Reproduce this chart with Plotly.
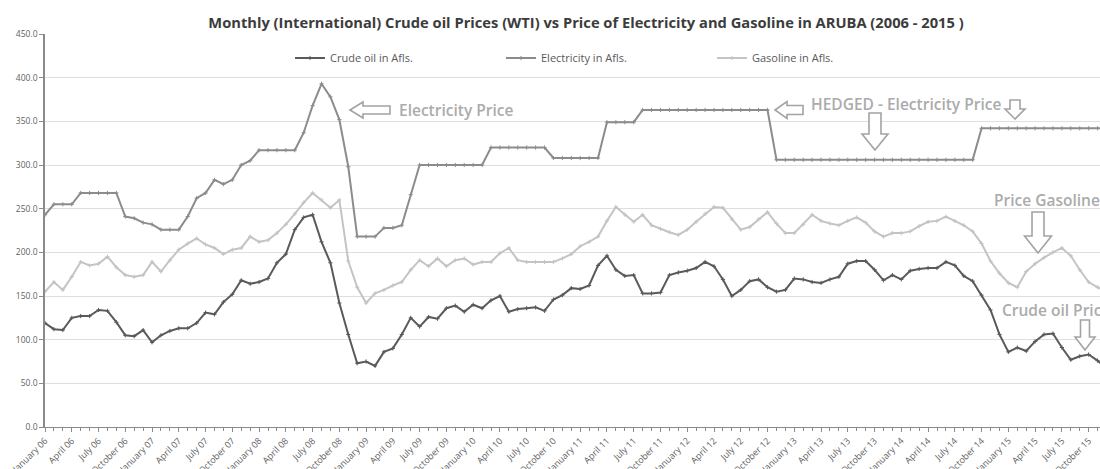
import plotly.graph_objects as go

# ---------------- data ----------------
years = ["06", "07", "08", "09", "10", "11", "12", "13", "14", "15"]
month_names = ["January", "February", "March", "April", "May", "June", "July",
               "August", "September", "October", "November", "December"]
months = [f"{m} {y}" for y in years for m in month_names]          # 120 categories
tick_months = months[::3]                                           # labelled every quarter

crude_oil = [
    119, 112, 111, 125, 127, 127, 134, 133, 120, 105, 104, 111,   # 2006
    97, 105, 110, 113, 113, 119, 131, 129, 143, 152, 168, 164,    # 2007
    166, 170, 188, 198, 226, 240, 243, 212, 188, 142, 106, 73,    # 2008
    75, 70, 86, 90, 106, 125, 115, 126, 124, 136, 139, 132,       # 2009
    140, 136, 145, 150, 132, 135, 136, 137, 133, 146, 151, 159,   # 2010
    158, 162, 185, 196, 180, 173, 174, 153, 153, 154, 174, 177,   # 2011
    179, 182, 189, 184, 169, 150, 157, 167, 169, 160, 155, 157,   # 2012
    170, 169, 166, 165, 169, 172, 187, 190, 190, 180, 168, 174,   # 2013
    169, 179, 181, 182, 182, 189, 185, 173, 167, 151, 134, 106,   # 2014
    86, 91, 87, 98, 106, 107, 91, 77, 81, 83, 76, 67,             # 2015
]

electricity = [
    243, 255, 255, 255, 268, 268, 268, 268, 268, 241, 239, 234,   # 2006
    232, 226, 226, 226, 241, 262, 268, 283, 278, 283, 300, 305,   # 2007
    317, 317, 317, 317, 317, 337, 368, 393, 378, 352, 298, 218,   # 2008
    218, 218, 228, 228, 231, 266, 300, 300, 300, 300, 300, 300,   # 2009
    300, 300, 320, 320, 320, 320, 320, 320, 320, 308, 308, 308,   # 2010
    308, 308, 308, 349, 349, 349, 349, 363, 363, 363, 363, 363,   # 2011
    363, 363, 363, 363, 363, 363, 363, 363, 363, 363, 306, 306,   # 2012
    306, 306, 306, 306, 306, 306, 306, 306, 306, 306, 306, 306,   # 2013
    306, 306, 306, 306, 306, 306, 306, 306, 306, 342, 342, 342,   # 2014
    342, 342, 342, 342, 342, 342, 342, 342, 342, 342, 342, 342,   # 2015
]

gasoline = [
    155, 166, 157, 172, 189, 185, 187, 195, 183, 174, 172, 174,   # 2006
    189, 178, 191, 203, 210, 216, 209, 205, 198, 203, 205, 218,   # 2007
    212, 214, 222, 232, 244, 257, 268, 260, 251, 260, 190, 160,   # 2008
    142, 153, 157, 162, 166, 180, 191, 184, 193, 184, 191, 193,   # 2009
    186, 189, 189, 199, 205, 191, 189, 189, 189, 189, 193, 198,   # 2010
    207, 212, 218, 236, 252, 243, 235, 243, 231, 227, 223, 220,   # 2011
    226, 235, 244, 252, 251, 238, 226, 229, 238, 246, 233, 222,   # 2012
    222, 232, 243, 236, 233, 231, 236, 240, 234, 224, 218, 222,   # 2013
    222, 224, 230, 235, 236, 241, 236, 231, 224, 210, 190, 176,   # 2014
    165, 160, 178, 187, 194, 200, 205, 196, 180, 166, 160, 155,   # 2015
]

series_names = ["Crude oil in Afls.", "Electricity in Afls.", "Gasoline in Afls."]
series_colors = ["#5a5a5a", "#8c8c8c", "#c4c4c4"]

# ---------------- layout geometry ----------------
W, H = 1100, 469
L, R, T, B = 45, 1100, 34, 427          # plot-area edges in pixels
FONT = "Open Sans"


def px(xp):
    return (xp - L) / (R - L)


def py(yp):
    return (B - yp) / (B - T)


def arrow_path(direction, a, b, length, width, head, shaft):
    """Hollow block arrow. left: tip at (a,b); down: top-centre at (a,b)."""
    if direction == "left":
        pts = [(a, b), (a + head, b - width / 2), (a + head, b - shaft / 2),
               (a + length, b - shaft / 2), (a + length, b + shaft / 2),
               (a + head, b + shaft / 2), (a + head, b + width / 2)]
    else:
        tip = b + length
        pts = [(a, tip), (a - width / 2, tip - head), (a - shaft / 2, tip - head),
               (a - shaft / 2, b), (a + shaft / 2, b), (a + shaft / 2, tip - head),
               (a + width / 2, tip - head)]
    return "M " + " L ".join(f"{px(x):.5f},{py(y):.5f}" for x, y in pts) + " Z"


x_idx = list(range(len(months)))

fig = go.Figure()
for name, vals, col in zip(series_names, [crude_oil, electricity, gasoline], series_colors):
    fig.add_trace(go.Scatter(
        x=x_idx, y=vals, name=name, mode="lines+markers",
        line=dict(color=col, width=2),
        marker=dict(symbol="cross-thin-open", size=3, line=dict(color=col, width=1)),
        hovertext=months,
    ))

arrow_style = dict(type="path", xref="paper", yref="paper",
                   line=dict(color="#a3a3a3", width=1.6), fillcolor="white", layer="above")
shapes = [
    dict(path=arrow_path("left", 350, 110, 40, 16, 13, 8), **arrow_style),
    dict(path=arrow_path("left", 775, 110, 28, 17, 12, 9), **arrow_style),
    dict(path=arrow_path("down", 1015, 100, 19, 20, 10, 10), **arrow_style),
    dict(path=arrow_path("down", 875, 113, 37, 26, 16, 12), **arrow_style),
    dict(path=arrow_path("down", 1038, 212, 41, 27, 17, 12), **arrow_style),
    dict(path=arrow_path("down", 1085, 320, 30, 20, 13, 9), **arrow_style),
]

ann_font = dict(family=FONT, size=15.5, color="#ababab", weight=600)
annotations = [
    dict(text="Electricity Price", x=px(397), y=py(110)),
    dict(text="HEDGED - Electricity Price", x=px(809), y=py(104)),
    dict(text="Price Gasoline", x=px(992), y=py(200)),
    dict(text="Crude oil Price", x=px(1000), y=py(310)),
]
for a in annotations:
    a.update(xref="paper", yref="paper", xanchor="left", yanchor="middle",
             showarrow=False, font=ann_font)

fig.update_layout(
    width=W, height=H,
    margin=dict(l=L, r=W - R, t=T, b=H - B, autoexpand=False),
    paper_bgcolor="white", plot_bgcolor="white",
    title=dict(
        text="Monthly (International) Crude oil Prices (WTI) vs Price of Electricity and Gasoline in ARUBA (2006 - 2015 )",
        xref="container", x=586 / W, xanchor="center", y=1 - 23 / H, yanchor="middle",
        font=dict(family=FONT, size=14.7, color="#3c3c3c", weight="bold"),
    ),
    legend=dict(orientation="h", x=px(290), xanchor="left", y=py(58), yanchor="middle",
                font=dict(family=FONT, size=11, color="#595959"),
                itemwidth=30, entrywidth=166, entrywidthmode="pixels",
                bgcolor="rgba(0,0,0,0)", tracegroupgap=0),
    shapes=shapes,
    annotations=annotations,
    showlegend=True,
    hovermode="x",
)

fig.update_xaxes(
    range=[0, (R - L) / 8.92],
    tickmode="array", tickvals=x_idx[::3], ticktext=tick_months,
    tickangle=-45, tickfont=dict(family=FONT, size=9, color="#5f5f5f"),
    ticks="outside", ticklen=4, tickcolor="#8a8a8a",
    minor=dict(ticks="outside", ticklen=3, tickmode="linear", tick0=0, dtick=1,
               tickcolor="#8a8a8a", showgrid=False),
    showline=True, linecolor="#8a8a8a", linewidth=1,
    showgrid=False, zeroline=False, automargin=False,
)
fig.update_yaxes(
    range=[0, 450], dtick=50, tick0=0, tickformat=".1f",
    tickfont=dict(family=FONT, size=8.5, color="#5f5f5f"),
    ticks="outside", ticklen=4, tickcolor="#8a8a8a",
    showline=True, linecolor="#8a8a8a", linewidth=1.5,
    showgrid=True, gridcolor="#dedede", gridwidth=1,
    zeroline=False, automargin=False,
)

fig.write_html(
    "out.html",
    config={"displayModeBar": False},
    post_script="document.body.style.margin='0';document.body.style.padding='0';"
                "document.body.style.overflow='hidden';",
)
